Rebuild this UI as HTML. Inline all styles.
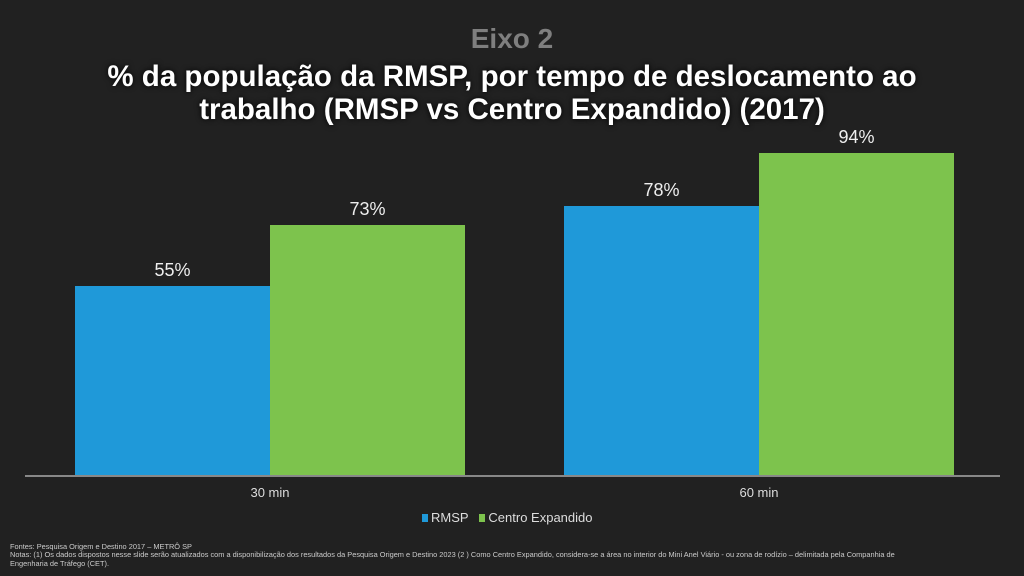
<!DOCTYPE html>
<html><head><meta charset="utf-8"><style>
body{margin:0;width:1024px;height:576px;background:#212121;position:relative;overflow:hidden;font-family:"Liberation Sans",sans-serif;color:#fff}
.a{position:absolute}
.t1{left:0;width:1024px;top:23px;text-align:center;font-weight:bold;font-size:28px;color:#7f7f7f}
.t2{left:0;width:1024px;top:60px;text-align:center;font-weight:bold;font-size:29.5px;line-height:33px;color:#fff;text-shadow:0 0 6px #000}
.bar{position:absolute}
.lbl{position:absolute;width:195px;text-align:center;font-size:18px;color:#eee}
.x{position:absolute;width:200px;text-align:center;font-size:13px;color:#ddd;top:485px}
.f{position:absolute;left:10px;font-size:7.4px;color:#ccc;line-height:9px}
</style></head><body>
<div class="a t1">Eixo 2</div>
<div class="a t2">% da população da RMSP, por tempo de deslocamento ao<br>trabalho (RMSP vs Centro Expandido) (2017)</div>
<div class="bar" style="left:75px;width:195px;top:286px;height:190px;background:#1f99d9"></div>
<div class="bar" style="left:270px;width:195px;top:225px;height:251px;background:#7dc34d"></div>
<div class="bar" style="left:564px;width:195px;top:206px;height:270px;background:#1f99d9"></div>
<div class="bar" style="left:759px;width:195px;top:153px;height:323px;background:#7dc34d"></div>
<div class="a" style="left:25px;width:975px;top:475px;height:2px;background:#888"></div>
<div class="lbl" style="left:75px;top:260px">55%</div>
<div class="lbl" style="left:270px;top:199px">73%</div>
<div class="lbl" style="left:564px;top:180px">78%</div>
<div class="lbl" style="left:759px;top:127px">94%</div>
<div class="x" style="left:170px">30 min</div>
<div class="x" style="left:659px">60 min</div>
<div class="a" style="left:422px;top:510px;font-size:13px;color:#ddd;white-space:nowrap"><span style="display:inline-block;width:6px;height:8px;background:#1f99d9;margin-right:3px"></span>RMSP&nbsp;&nbsp;&nbsp;<span style="display:inline-block;width:6px;height:8px;background:#7dc34d;margin-right:3px"></span>Centro Expandido</div>
<div class="f" style="top:542px">Fontes: Pesquisa Origem e Destino 2017 – METRÔ SP</div>
<div class="f" style="top:550px;width:1010px">Notas: (1) Os dados dispostos nesse slide serão atualizados com a disponibilização dos resultados da Pesquisa Origem e Destino 2023 (2 ) Como Centro Expandido, considera-se  a área no interior do Mini Anel Viário - ou zona de rodízio – delimitada pela Companhia de<br>Engenharia de Tráfego (CET).</div>
</body></html>
